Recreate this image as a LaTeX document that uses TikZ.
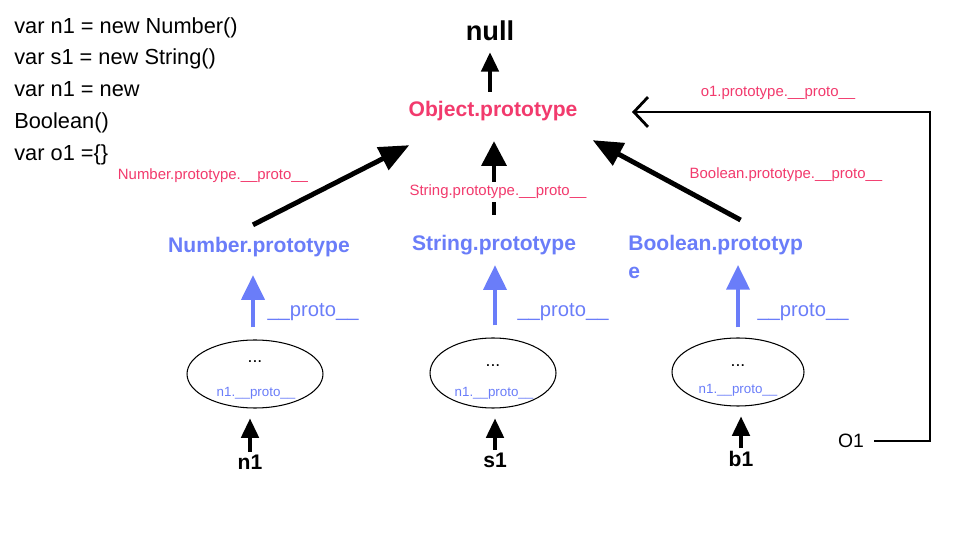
\documentclass[tikz,border=0pt]{standalone}
\usepackage{fontspec}
\setmainfont{Liberation Sans}
\usetikzlibrary{arrows.meta,shapes.geometric}
\definecolor{protopink}{HTML}{F23A6D}
\definecolor{protoblue}{HTML}{6A7DF9}

\begin{document}
\begin{tikzpicture}[x=0.02cm, y=-0.02cm,
    pinklabel/.style={text=protopink, inner sep=0pt, font=\fontsize{8.5}{10}\selectfont},
    protolabel/.style={text=protoblue, inner sep=0pt, font=\fontsize{11.5}{14}\selectfont},
    bluetitle/.style={text=protoblue, inner sep=0pt, font=\fontsize{12}{16}\selectfont\bfseries},
    varlabel/.style={inner sep=0pt, font=\fontsize{12}{14}\selectfont\bfseries},
    instance/.style={draw, ellipse, line width=0.6pt, minimum width=2.64cm, minimum height=1.36cm},
    dots/.style={inner sep=0pt, font=\fontsize{10}{12}\selectfont},
    smallproto/.style={text=protoblue, inner sep=0pt, font=\fontsize{7.6}{9}\selectfont},
    blkarr/.style={line width=1.8pt, -{Triangle[length=11pt, width=10pt]}},
    bigarr/.style={line width=2.4pt, -{Triangle[length=14pt, width=14pt]}},
    diagarr/.style={line width=2.8pt, -{Triangle[length=17pt, width=14pt]}},
    bluearr/.style={draw=protoblue, line width=2.3pt, -{Triangle[length=14pt, width=13pt]}}
  ]

  \fill[white] (0,0) rectangle (963,553);

  % code on the left
  \node[anchor=north west, align=left, inner sep=0pt, font=\fontsize{12.4}{18.1}\selectfont] (code) at (14,17)
    {var n1 = new Number()\\var s1 = new String()\\var n1 = new\\Boolean()\\var o1 =\{\}};

  % top of the chain
  \node[inner sep=0pt, font=\fontsize{15.5}{18}\selectfont\bfseries] (null) at (490,31) {null};
  \node[inner sep=0pt, text=protopink, font=\fontsize{12}{16}\selectfont\bfseries] (obj) at (493,111) {Object.prototype};

  % prototypes
  \node[bluetitle] (num) at (259,247) {Number.prototype};
  \node[bluetitle] (str) at (494,245) {String.prototype};
  \node[bluetitle, anchor=north west, align=left] (bool) at (628,235) {Boolean.prototyp\\e};

  % instances
  \node[instance, minimum width=2.72cm] (numobj) at (255,374) {};
  \node[instance, minimum width=2.52cm, minimum height=1.4cm] (strobj) at (493,373) {};
  \node[instance] (boolobj) at (738,372) {};
  \node[dots] (numdots) at (255,362) {...};
  \node[dots] (strdots) at (493,366) {...};
  \node[dots] (booldots) at (738,366) {...};
  \node[smallproto] (numin) at (256,393) {n1.\_\_proto\_\_};
  \node[smallproto] (strin) at (494,393) {n1.\_\_proto\_\_};
  \node[smallproto] (boolin) at (738,390) {n1.\_\_proto\_\_};

  \node[varlabel] (n1) at (250,462) {n1};
  \node[varlabel] (s1) at (495,460) {s1};
  \node[varlabel] (b1) at (741,459) {b1};
  \node[inner sep=0pt, font=\fontsize{11}{14}\selectfont] (o1) at (851,441) {O1};

  \coordinate (booltip) at (738,265);
  \coordinate (ocorner) at (930,112);
  \coordinate (otip) at (632,112);

  % black links
  \draw[blkarr, shorten <=0.18cm, shorten >=0.22cm] (null.south |- obj.north) -- (null.south);
  \draw[bigarr, shorten <=0.4cm, shorten >=0.4cm] (str.north) -- (str.north |- obj.south);
  \draw[diagarr] ([shift={(-6,-12)}]num.north) -- ([shift={(1,24)}]obj.south west);
  \draw[diagarr] ([shift={(25,-15)}]bool.north) -- ([shift={(15,19)}]obj.south east);
  \draw[line width=1.6pt, shorten <=0.2cm, -{Straight Barb[length=8pt, width=17pt, line width=1.6pt]}]
    (o1.east) -| (ocorner) -- (otip);

  \draw[blkarr, shorten <=0.05cm, shorten >=0.2cm] (n1.north) -- (n1.north |- numobj.south);
  \draw[blkarr, shorten <=0.05cm, shorten >=0.2cm] (s1.north) -- (s1.north |- strobj.south);
  \draw[blkarr, shorten <=0.05cm, shorten >=0.2cm] (b1.north) -- (b1.north |- boolobj.south);

  % blue links
  \draw[bluearr, shorten <=0.24cm, shorten >=0.36cm] ([xshift=-0.04cm]numobj.north) -- ([xshift=-0.04cm]numobj.north |- num.south);
  \draw[bluearr, shorten <=0.24cm, shorten >=0.2cm] ([xshift=0.04cm]strobj.north) -- ([xshift=0.04cm]strobj.north |- str.south);
  \draw[bluearr, shorten <=0.2cm] (boolobj.north) -- (booltip);
  \node[protolabel] (numproto) at (313,312) {\_\_proto\_\_};
  \node[protolabel] (strproto) at (563,312) {\_\_proto\_\_};
  \node[protolabel] (boolproto) at (803,312) {\_\_proto\_\_};

  % pink labels
  \node[pinklabel] (numlink) at (213,176) {Number.prototype.\_\_proto\_\_};
  \node[pinklabel, fill=white, inner sep=2pt] (strlink) at (498,192) {String.prototype.\_\_proto\_\_};
  \node[pinklabel] (boollink) at (786,175) {Boolean.prototype.\_\_proto\_\_};
  \node[pinklabel] (olink) at (778,93) {o1.prototype.\_\_proto\_\_};

\end{tikzpicture}
\end{document}
